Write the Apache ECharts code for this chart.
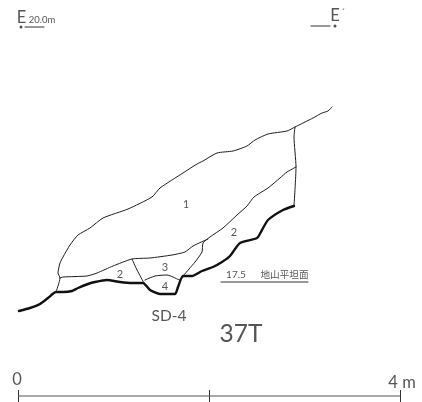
<!DOCTYPE html>
<html><head><meta charset="utf-8">
<style>html,body{margin:0;padding:0;background:#fff}#c{width:422px;height:402px}</style>
<script src="https://cdn.jsdelivr.net/npm/echarts@6/dist/echarts.min.js"></script>
</head><body><div id="c"></div>
<script>
const groundLine = [[19,311],[30,308],[40,304],[48,298],[56,292],[63,292],[72,291],[78,288],[88,284],[95,282],[107,280],[120,282],[132,283],[143,283],[150,290],[160,294],[175,294],[178,287],[183,276],[192,276],[202,271],[213,267],[222,262],[230,256],[240,243],[257,238],[262,230],[268,220],[283,210],[294,206]];
const eastSection = [[295,127],[294,137],[296,167],[294,206]];
const layer1Top = [[56,292],[60,278],[58,273],[60,263],[63,257],[70,245],[78,235],[90,228],[103,218],[128,209],[152,197],[160,188],[183,173],[197,164],[203,161],[217,153],[233,151],[247,146],[255,140],[268,134],[287,131],[295,127],[313,118],[322,113],[328,111],[332,107]];
const layer2Top = [[296,167],[287,172],[280,178],[268,188],[254,197],[247,206],[237,215],[223,228],[210,237],[203,243],[202,252],[195,262],[183,276]];
const layer2Left = [[60,278],[63,277],[87,276],[97,273],[113,266],[132,259],[150,258],[172,255],[185,252],[193,246],[208,239]];
const ditchWall = [[132,259],[137,270],[144,283]];
const layer4Top = [[145,280],[155,276],[167,275],[173,277],[180,280],[184,276]];
const datumLine = [[221,282],[308,282]];
const leftDatum = [[25,27],[44,27]];
const rightDatum = [[311,26],[330,26]];
const markers = [[21,27],[335,26]];
const scaleMetres = [0,4];
const thinLines = [eastSection, layer1Top, layer2Top, layer2Left, ditchWall, layer4Top];
const ruleLines = [datumLine, leftDatum, rightDatum];
const labelTexts = ['1','2','2','3','4','SD-4','37T','17.5','地山平坦面','E','20.0m','E','´','0','4','m'];

const layout = [
 [186,205,10.5],[120,274,11],[234,232,11],[165,267,11],[165,286,11],
 [169,316,15.5],[241,334,24.5],[236,275,10],[284.5,275,9.6],
 [21.5,18,16.5],[42,20,9.5],[335,16,16.5],[343,13,10],[17,380,16.5],[393,383,16.5],[409,383,16.5]
];
const ink = '#1f1f1f';
const lineSeries = (d,w,col)=>({type:'line',xAxisIndex:0,yAxisIndex:0,data:d,symbol:'none',silent:true,smooth:0.2,
  lineStyle:{color:col||ink,width:w,join:'round',cap:'round'}});
const font = 'Lato,"Noto Sans CJK JP",sans-serif';
const option = {
 animation:false,backgroundColor:'#fff',
 grid:[{left:0,top:0,width:422,height:402},{left:18,top:390,width:382,height:12}],
 xAxis:[{type:'value',min:0,max:422,show:false},
  {type:'value',gridIndex:1,min:0,max:4,interval:2,axisLine:{show:false},axisTick:{show:false},axisLabel:{show:false},
   splitLine:{show:true,lineStyle:{color:'#333',width:1}}}],
 yAxis:[{type:'value',min:0,max:402,inverse:true,show:false},
  {type:'value',gridIndex:1,min:-1,max:1,axisLine:{show:false},axisTick:{show:false},axisLabel:{show:false},splitLine:{show:false}}],
 series:[
  lineSeries(groundLine,2.4,'#111'),
  ...thinLines.map(d=>lineSeries(d,1)),
  ...ruleLines.map(d=>({...lineSeries(d,1,'#333'),smooth:false})),
  {type:'line',xAxisIndex:1,yAxisIndex:1,data:scaleMetres.map(m=>[m,0]),symbol:'none',silent:true,lineStyle:{color:'#555',width:1.2}},
  {type:'scatter',xAxisIndex:0,yAxisIndex:0,data:markers,symbol:'circle',symbolSize:3,itemStyle:{color:'#222'},silent:true},
  {type:'scatter',xAxisIndex:0,yAxisIndex:0,symbolSize:0,silent:true,
   data:labelTexts.map((t,i)=>({value:[layout[i][0],layout[i][1]],
     label:{show:true,position:'inside',formatter:t,fontSize:layout[i][2],fontFamily:font,fontWeight:400,color:'#2a2a2a'}}))}
 ]
};
echarts.init(document.getElementById('c'),null,{renderer:'canvas'}).setOption(option);
</script></body></html>
